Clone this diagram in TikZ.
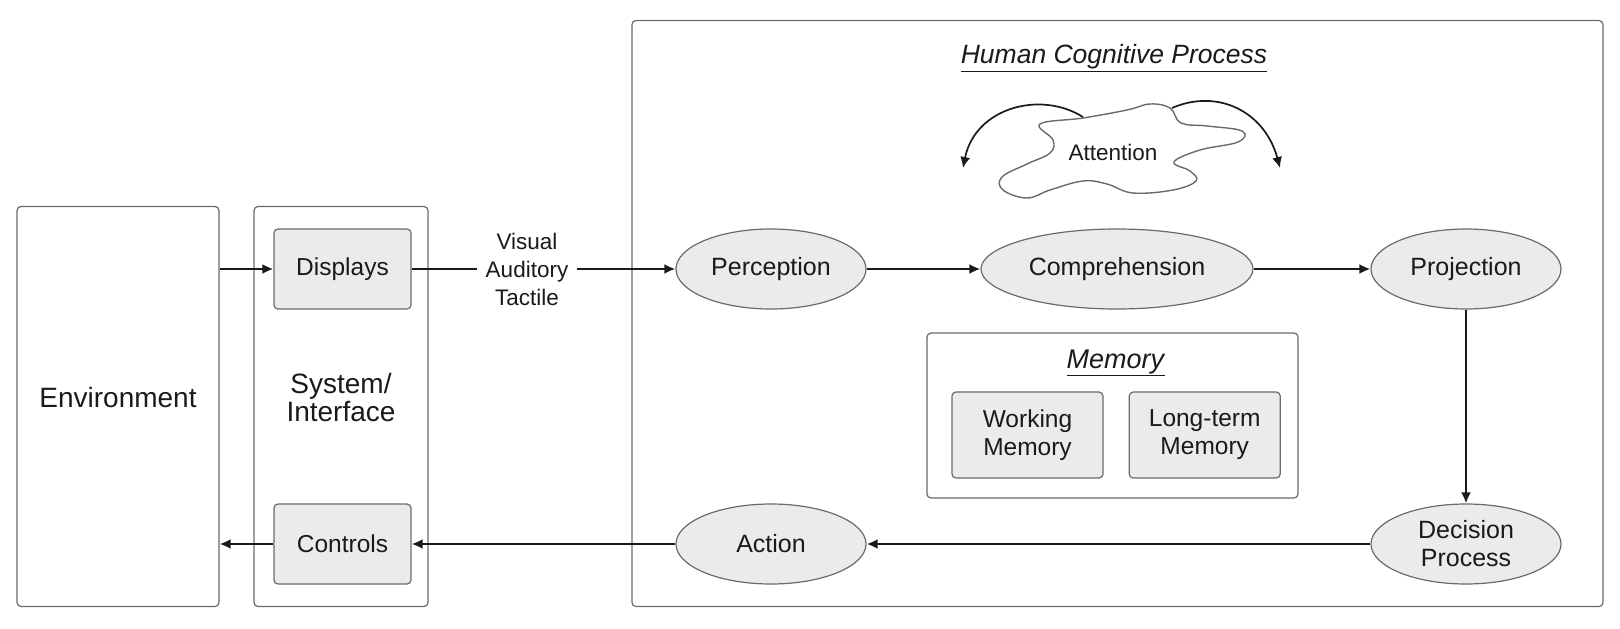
\documentclass[tikz,border=0pt]{standalone}
\usepackage{fontspec}
\setmainfont{Liberation Sans}
\usepackage{tikz}
\usetikzlibrary{arrows.meta}
\usetikzlibrary{shapes.geometric}
\usetikzlibrary{positioning}
\definecolor{hc-text}{HTML}{1A1A1A}
\definecolor{hc-line}{HTML}{6A6A6A}
\definecolor{hc-fill}{HTML}{EBEBEB}

\tikzset{
  frame/.style={draw=hc-line, line width=1.2pt, rounded corners=4pt, inner sep=0pt},
  unit/.style={draw=hc-line, line width=1.2pt, fill=hc-fill, rounded corners=4pt, inner sep=0pt,
    text=hc-text, align=center, font=\fontsize{24.5}{28}\selectfont},
  stage/.style={ellipse, draw=hc-line, line width=1.2pt, fill=hc-fill, inner sep=0pt,
    minimum width=190pt, minimum height=80pt, text=hc-text, align=center,
    font=\fontsize{25}{28}\selectfont},
  flow/.style={-{Latex[length=11pt,width=10pt]}, line width=2.3pt, hc-text},
}

\begin{document}
\begin{tikzpicture}[x=1pt, y=-1pt]
    \useasboundingbox (0,0) rectangle (1620,629);

    % Outside
    \node[frame, minimum width=202pt, minimum height=400pt] (env) at (118,406.5) {};
    \node[text=hc-text, font=\fontsize{28}{30}\selectfont] (envlabel) at (118,397) {Environment};
    \node[frame, minimum width=174pt, minimum height=400pt] (system) at (341,406.5) {};
    \node[text=hc-text, align=center, font=\fontsize{28}{28}\selectfont] (syslabel) at (341,397) {System/\\Interface};
    \node[unit, minimum width=137pt, minimum height=80pt] (displays) at (342.5,269) {Displays};
    \node[unit, minimum width=137pt, minimum height=80pt] (controls) at (342.5,544) {Controls};
    \node[text=hc-text, align=center, font=\fontsize{22.5}{28}\selectfont, inner xsep=9pt] (senses) at (527,269) {Visual\\Auditory\\Tactile};

    % Human side
    \node[frame, minimum width=971pt, minimum height=586pt] (human) at (1117.5,313.5) {};
    \node[text=hc-text, font=\fontsize{26.5}{28}\selectfont] (humanlabel) at (1114,58) {\underline{\textit{Human Cognitive Process}}};

    % Attention
    \draw[hc-line, line width=1.4pt] plot[smooth cycle, tension=0.65] coordinates {
      (1040,124) (1083,118) (1127,110) (1150,104) (1170,108) (1181,123) (1207,126)
      (1242,131) (1238,142) (1200,150) (1174,162) (1190,171) (1196,181) (1173,190)
      (1133,193) (1107,184) (1083,181) (1050,190) (1027,198) (1003,190) (1002,177)
      (1027,164) (1050,153) (1053,140)};
    \node[text=hc-text, font=\fontsize{22.5}{26}\selectfont] (attention) at (1113,152) {Attention};
    \coordinate (attleft) at (1083,117);
    \coordinate (attlefttip) at (963,168);
    \coordinate (attright) at (1172,108);
    \coordinate (attrighttip) at (1280,168);
    \draw[flow, line width=1.7pt] (attleft) .. controls (1040,90) and (975,108) .. (attlefttip);
    \draw[flow, line width=1.7pt] (attright) .. controls (1218,88) and (1265,112) .. (attrighttip);

    % Stages
    \node[stage] (perception) at (771,269) {Perception};
    \node[stage, minimum width=272pt] (comprehension) at (1117,269) {Comprehension};
    \node[stage] (projection) at (1466,269) {Projection};
    \node[stage] (decision) at (1466,544) {Decision\\Process};
    \node[stage] (action) at (771,544) {Action};

    % Memory
    \node[frame, minimum width=371pt, minimum height=165pt] (memory) at (1112.5,415.5) {};
    \node[text=hc-text, font=\fontsize{27}{28}\selectfont] (memlabel) at (1116,363) {\underline{\textit{Memory}}};
    \node[unit, minimum width=151pt, minimum height=86pt] (working) at (1027.5,435) {Working\\Memory};
    \node[unit, minimum width=151pt, minimum height=86pt, right=25pt of working] (longterm) {Long-term\\Memory};

    % Edges
    \draw[flow] (displays -| env.east) -- (displays);
    \draw[flow] (displays) -- (senses) -- (perception);
    \draw[flow] (perception) -- (comprehension);
    \draw[flow] (comprehension) -- (projection);
    \draw[flow] (projection) -- (decision);
    \draw[flow] (decision) -- (action);
    \draw[flow] (action) -- (controls);
    \draw[flow] (controls) -- (controls -| env.east);
\end{tikzpicture}
\end{document}
